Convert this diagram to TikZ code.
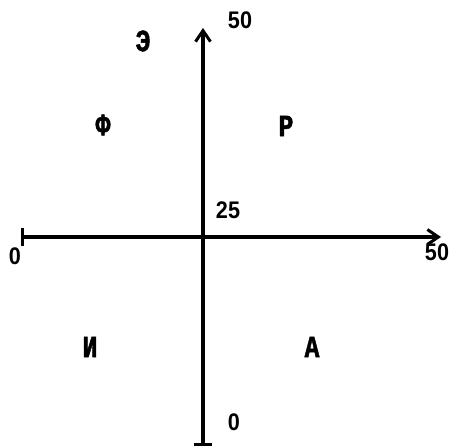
\documentclass[tikz,border=0pt]{standalone}
\usepackage{fontspec}
\newfontfamily\typefont[FakeStretch=0.8, FakeBold=1.5]{Liberation Mono Bold}
\newfontfamily\numfont[FakeStretch=0.9]{Liberation Sans Bold}
\usetikzlibrary{arrows.meta}

\begin{document}
\begin{tikzpicture}[
	x=1pt, y=1pt,
	font=\typefont\fontsize{31}{31}\selectfont,
	axis/.style={
		line width=3.6pt,
		{Bar[width=18pt, line width=3pt]}-{Straight Barb[length=11pt, width=15pt, line width=3pt]},
	},
	zone/.style={inner sep=0pt},
	scalelbl/.style={inner sep=0pt, font=\numfont\fontsize{24}{24}\selectfont},
]
\useasboundingbox (0,0) rectangle (449,446);

% --- Osi ---
\coordinate (xl) at (21,209);
\coordinate (xr) at (441,209);
\coordinate (yb) at (203,0);
\coordinate (yt) at (203,418);
\draw[axis] (xl) -- (xr);
\draw[axis] (yb) -- (yt);

% --- Stupnice ---
\node[scalelbl] (ytop) at (240,426) {50};
\node[scalelbl] (ybot) at (234,24)  {0};
\node[scalelbl] (ymid) at (228,236) {25};
\node[scalelbl] (xlft) at (15,190)  {0};
\node[scalelbl] (xrgt) at (437,194) {50};

% --- Oblasti ---
\node[zone] (e) at (143,405) {Э};
\node[zone] (f) at (103,321) {Ф};
\node[zone] (r) at (286,320) {Р};
\node[zone] (i) at (90,99)   {И};
\node[zone] (a) at (312,99)  {А};

\end{tikzpicture}
\end{document}
